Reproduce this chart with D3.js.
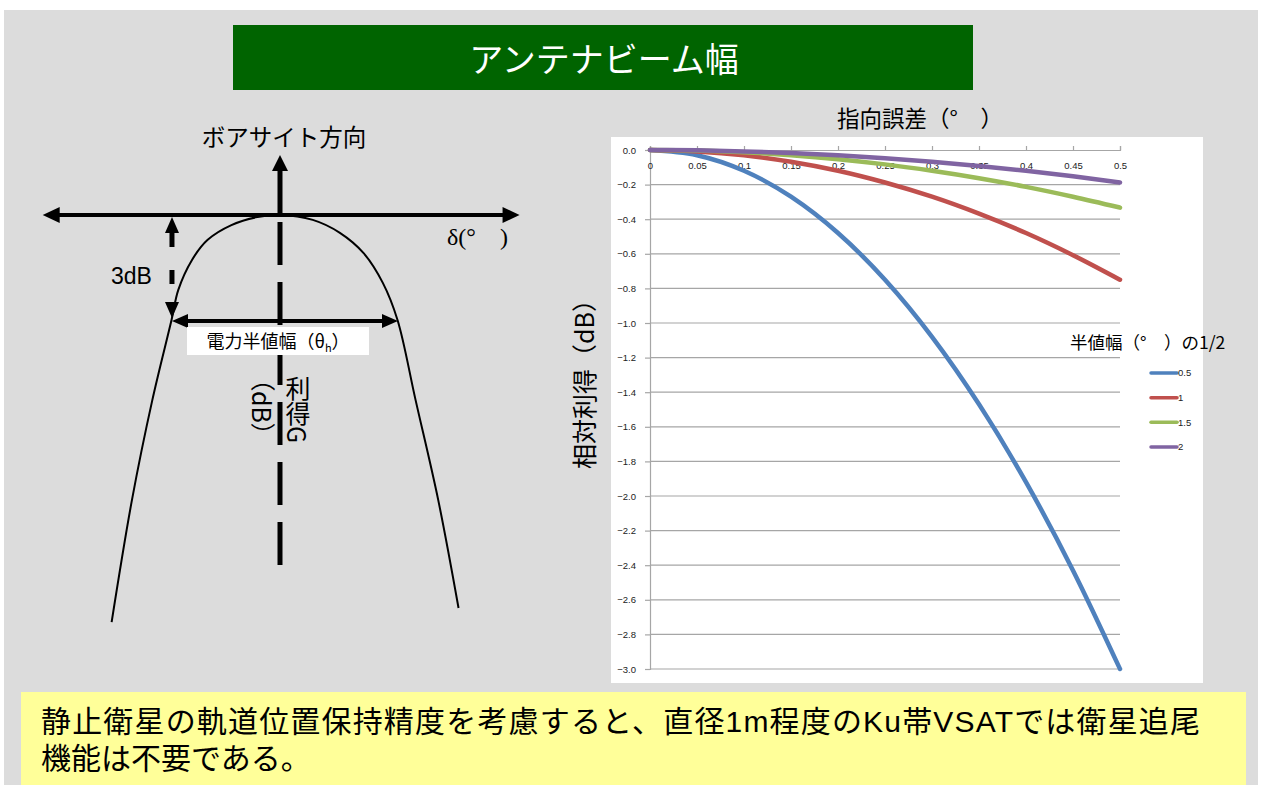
<!DOCTYPE html>
<html>
<head>
<meta charset="utf-8">
<script src="https://cdn.jsdelivr.net/npm/d3@7"></script>
<style>
  html, body { margin: 0; padding: 0; background: #ffffff; }
  svg { display: block; }
  .jp { font-family: "Noto Sans CJK JP", "Noto Sans", sans-serif; }
  .lat { font-family: "Liberation Sans", Arial, sans-serif; }
  .mix { font-family: "Liberation Sans", "Noto Sans CJK JP", sans-serif; }
</style>
</head>
<body>
<svg id="root" width="1261" height="785"></svg>
<script>
// ---- pointing-error chart data ----
const offsets = [0, 0.05, 0.1, 0.15, 0.2, 0.25, 0.3, 0.35, 0.4, 0.45, 0.5];
const halfBeamwidths = ["0.5", "1", "1.5", "2"];
const gainHalf05 = [0, -0.03, -0.12, -0.27, -0.48, -0.75, -1.08, -1.47, -1.92, -2.43, -3.0];
const gainHalf1 = [0, -0.008, -0.03, -0.068, -0.12, -0.188, -0.27, -0.368, -0.48, -0.608, -0.75];
const gainHalf15 = [0, -0.003, -0.013, -0.03, -0.053, -0.083, -0.12, -0.163, -0.213, -0.27, -0.333];
const gainHalf2 = [0, -0.002, -0.008, -0.017, -0.03, -0.047, -0.068, -0.092, -0.12, -0.152, -0.188];
const seriesColors = ["#4f81bd", "#c0504d", "#9bbb59", "#8064a2"];
const xTickLabels = ["0", "0.05", "0.1", "0.15", "0.2", "0.25", "0.3", "0.35", "0.4", "0.45", "0.5"];
const yTickValues = [0, -0.2, -0.4, -0.6, -0.8, -1.0, -1.2, -1.4, -1.6, -1.8, -2.0, -2.2, -2.4, -2.6, -2.8, -3.0];

// ---- schematic beam pattern (δ in units of θh/2, g = dB below peak) ----
const patternDelta = [-1.49, -1.31, -1.13, -0.96, -0.90, -0.78, -0.64, -0.43, -0.20, 0, 0.29, 0.53, 0.74, 0.91, 1.04, 1.20, 1.40, 1.58];
const patternDrop  = [11.63, 8.14, 5.29, 3.0, 2.14, 1.29, 0.71, 0.29, 0.06, 0, 0.14, 0.51, 1.09, 1.94, 3.0, 5.29, 8.14, 11.23];

const svg = d3.select("#root");

// page panels
svg.append("rect").attr("x", 4).attr("y", 10).attr("width", 1254).attr("height", 775).attr("fill", "#dcdcdc");
svg.append("rect").attr("x", 233).attr("y", 25).attr("width", 740).attr("height", 65).attr("fill", "#006400");
svg.append("text").attr("class", "jp").attr("x", 604).attr("y", 72)
  .attr("text-anchor", "middle").attr("font-size", 34).attr("fill", "#ffffff").text("アンテナビーム幅");

// ================= left: beam pattern schematic =================
const dx = d3.scaleLinear().domain([0, 1]).range([280, 393]);
const gy = d3.scaleLinear().domain([0, 3]).range([215, 320]);
const left = svg.append("g");

function head(g, tipX, tipY, dirX, dirY, len, half) {
  const bx = tipX - dirX * len, by = tipY - dirY * len;
  const px = -dirY * half, py = dirX * half;
  g.append("path")
    .attr("d", `M${tipX},${tipY}L${bx + px},${by + py}L${bx - px},${by - py}Z`)
    .attr("fill", "#000");
}

// δ axis (double arrow)
left.append("line").attr("x1", dx(-2.08) + 12).attr("x2", dx(2.12) - 12)
  .attr("y1", gy(0)).attr("y2", gy(0)).attr("stroke", "#000").attr("stroke-width", 4);
head(left, dx(-2.1), gy(0), -1, 0, 17, 8);
head(left, dx(2.12), gy(0), 1, 0, 17, 8);

// boresight arrow
left.append("line").attr("x1", dx(0)).attr("x2", dx(0)).attr("y1", gy(0)).attr("y2", 168)
  .attr("stroke", "#000").attr("stroke-width", 5);
head(left, dx(0), 155, 0, -1, 16, 8);

// dashed boresight continuation
left.append("line").attr("x1", dx(0)).attr("x2", dx(0)).attr("y1", 222).attr("y2", 565)
  .attr("stroke", "#000").attr("stroke-width", 5).attr("stroke-dasharray", "43,17");

// beam pattern curve
const patternLine = d3.line().x(d => dx(d[0])).y(d => gy(d[1])).curve(d3.curveCatmullRom.alpha(0.5));
left.append("path").datum(d3.zip(patternDelta, patternDrop))
  .attr("d", patternLine).attr("fill", "none").attr("stroke", "#000").attr("stroke-width", 2);

// 3 dB dashed arrow
const x3 = dx(-0.956);
left.append("line").attr("x1", x3).attr("x2", x3).attr("y1", 233).attr("y2", 300)
  .attr("stroke", "#000").attr("stroke-width", 5).attr("stroke-dasharray", "14,23");
head(left, x3, 217, 0, -1, 16, 7);
head(left, x3, 318, 0, 1, 16, 7);
left.append("text").attr("class", "lat").attr("x", 111).attr("y", 284)
  .attr("font-size", 23).attr("fill", "#000").text("3dB");

// half-power width arrow
const yh = gy(3.03);
left.append("line").attr("x1", x3 + 12).attr("x2", dx(1.044) - 12).attr("y1", yh).attr("y2", yh)
  .attr("stroke", "#000").attr("stroke-width", 4);
head(left, x3, yh, -1, 0, 16, 7);
head(left, dx(1.044), yh, 1, 0, 16, 7);

// half-power label box
left.append("rect").attr("x", 187).attr("y", 327).attr("width", 182).attr("height", 28).attr("fill", "#ffffff");
const hp = left.append("text").attr("class", "jp").attr("x", 278).attr("y", 348)
  .attr("text-anchor", "middle").attr("font-size", 18).attr("fill", "#000");
hp.append("tspan").text("電力半値幅（θ");
hp.append("tspan").attr("font-size", 11).attr("dy", 4).text("h");
hp.append("tspan").attr("dy", -4).text("）");

// vertical gain label
left.append("text").attr("class", "jp").attr("x", 298).attr("y", 376)
  .style("writing-mode", "vertical-rl").attr("font-size", 25).attr("fill", "#000").text("利得G");
left.append("text").attr("class", "jp").attr("x", 263).attr("y", 366)
  .style("writing-mode", "vertical-rl").attr("font-size", 25).attr("fill", "#000").text("（dB）");

// top labels
left.append("text").attr("class", "jp").attr("x", 284).attr("y", 146)
  .attr("text-anchor", "middle").attr("font-size", 23.5).attr("fill", "#000").text("ボアサイト方向");
left.append("text").attr("x", 447).attr("y", 245)
  .attr("font-family", "Liberation Serif, serif").attr("font-size", 24).attr("fill", "#000").text("δ(°　)");

// ================= right: gain vs pointing error =================
svg.append("rect").attr("x", 611).attr("y", 137).attr("width", 592).attr("height", 546).attr("fill", "#ffffff");

const x = d3.scaleLinear().domain([0, 0.5]).range([650, 1120]);
const y = d3.scaleLinear().domain([-3, 0]).range([669, 150]);
const chart = svg.append("g");

// horizontal gridlines
chart.append("g").selectAll("line").data(yTickValues.slice(1)).join("line")
  .attr("x1", x(0)).attr("x2", x(0.5)).attr("y1", d => y(d)).attr("y2", d => y(d))
  .attr("stroke", "#a6a6a6").attr("stroke-width", 1.2);

// y axis
const yAxis = chart.append("g").attr("transform", `translate(${x(0)},0)`)
  .call(d3.axisLeft(y).tickValues(yTickValues).tickFormat(d3.format(".1f")).tickSize(5).tickPadding(9));
yAxis.select(".domain").attr("stroke", "#a6a6a6").attr("stroke-width", 1.2);
yAxis.selectAll(".tick line").attr("stroke", "#a6a6a6").attr("stroke-width", 1.2);
yAxis.selectAll(".tick text").attr("class", "lat").attr("font-size", 9.5).attr("fill", "#222");

// x axis along the 0 dB line, labels hanging below it
const xAxis = chart.append("g").attr("transform", `translate(0,${y(0)})`)
  .call(d3.axisTop(x).tickValues(offsets).tickFormat((d, i) => xTickLabels[i]).tickSize(4));
xAxis.select(".domain").attr("stroke", "#a6a6a6").attr("stroke-width", 1.2);
xAxis.selectAll(".tick line").attr("stroke", "#a6a6a6").attr("stroke-width", 1.2);
xAxis.selectAll(".tick text").attr("class", "lat").attr("font-size", 9.5).attr("fill", "#222")
  .attr("y", 19).attr("dy", "0");

// series lines
const seriesValues = [gainHalf05, gainHalf1, gainHalf15, gainHalf2];
const gainLine = d3.line().x(d => x(d[0])).y(d => y(d[1])).curve(d3.curveMonotoneX);
seriesValues.forEach((vals, i) => {
  chart.append("path").datum(d3.zip(offsets, vals))
    .attr("d", gainLine).attr("fill", "none")
    .attr("stroke", seriesColors[i]).attr("stroke-width", 4.5).attr("stroke-linecap", "round");
});

// titles
chart.append("text").attr("class", "jp").attr("x", 920).attr("y", 127)
  .attr("text-anchor", "middle").attr("font-size", 22.5).attr("fill", "#000").text("指向誤差（°　）");
chart.append("text").attr("class", "jp")
  .attr("transform", "translate(594,378) rotate(-90)")
  .attr("text-anchor", "middle").attr("font-size", 25).attr("fill", "#000").text("相対利得（dB）");

// legend
chart.append("text").attr("class", "jp").attr("x", 1070).attr("y", 349)
  .attr("font-size", 17.5).attr("fill", "#000").text("半値幅（°　）の1/2");
const legendY = d3.scalePoint().domain(halfBeamwidths).range([373, 447]);
const lg = chart.append("g").selectAll("g").data(halfBeamwidths).join("g")
  .attr("transform", d => `translate(0,${legendY(d)})`);
lg.append("line").attr("x1", 1151).attr("x2", 1177).attr("y1", 0).attr("y2", 0)
  .attr("stroke", (d, i) => seriesColors[i]).attr("stroke-width", 3.5).attr("stroke-linecap", "round");
lg.append("text").attr("class", "lat").attr("x", 1178).attr("y", 0).attr("dy", "0.35em")
  .attr("font-size", 9.5).attr("fill", "#222").text(d => d);

// ================= bottom note =================
svg.append("rect").attr("x", 21).attr("y", 692).attr("width", 1225).attr("height", 93).attr("fill", "#ffff99");
svg.append("text").attr("class", "mix").attr("font-size", 30).attr("fill", "#000")
  .attr("x", 41).attr("y", 732)
  .attr("textLength", 1159).attr("lengthAdjust", "spacing")
  .text("静止衛星の軌道位置保持精度を考慮すると、直径1m程度のKu帯VSATでは衛星追尾");
svg.append("text").attr("class", "mix").attr("font-size", 30).attr("fill", "#000")
  .attr("x", 41).attr("y", 769).text("機能は不要である。");
</script>
</body>
</html>
